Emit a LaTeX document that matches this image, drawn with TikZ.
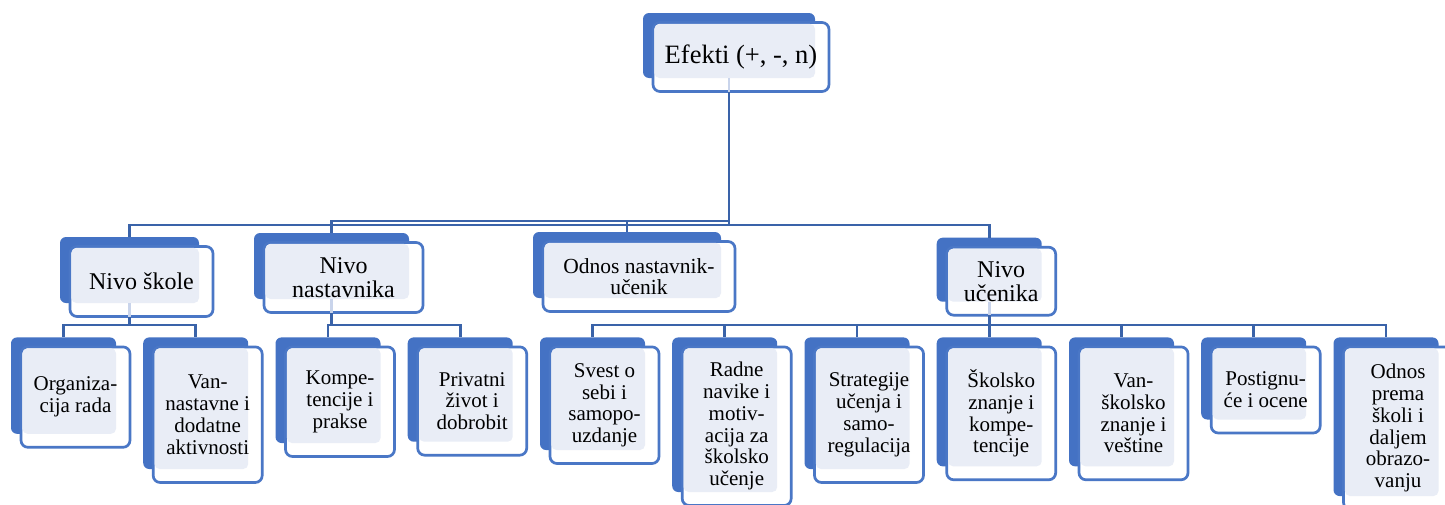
\documentclass[tikz,border=0pt]{standalone}
\usepackage{fontspec}
\setmainfont{Liberation Serif}
\definecolor{backblue}{HTML}{4472C4}
\definecolor{frontblue}{HTML}{4A77C6}
\definecolor{lightfill}{HTML}{E9EDF6}
\definecolor{linkblue}{HTML}{3A63A9}
\definecolor{faintblue}{HTML}{C9D4EB}
\tikzset{
  backbox/.style={fill=backblue, rounded corners=6pt},
  frontbox/.style={draw=frontblue, fill=white, line width=2.7pt, rounded corners=7pt},
  lightbox/.style={fill=lightfill, rounded corners=5pt},
  txt/.style={inner sep=0pt, align=center, text=black},
  ftop/.style={font=\fontsize{26.5}{30}\selectfont},
  fmid/.style={font=\fontsize{24}{24}\selectfont},
  fodn/.style={font=\fontsize{21.5}{21.3}\selectfont},
  fbot/.style={font=\fontsize{21}{21.8}\selectfont},
  link/.style={draw=linkblue, line width=2.7pt},
  faint/.style={draw=faintblue, line width=2.7pt},
}
\newcommand\mycard[7]{%
  \fill[backbox] (#2,#3) rectangle (#4,#5);
  \draw[frontbox] (#2+10,#3+9.5) rectangle (#4+14,#5+13.5);
  \fill[lightbox] (#2+11.4,#3+10.9) rectangle (#4,#5);
  \node[txt,#6] (#1) at ({(#2+#4+24)/2},{(#3+#5+23)/2}) {#7};
  \coordinate (#1-t) at ({(#2+#4)/2},#3);
  \coordinate (#1-b) at ({(#2+#4)/2},#5+13.5);
  \coordinate (#1-bb) at ({(#2+#4)/2},#5);
}
\begin{document}
\begin{tikzpicture}[x=1pt,y=-1pt]
\clip (0,0) rectangle (1445,504);
\fill[white] (0,0) rectangle (1445,504);
% bus coordinates
\coordinate (busA) at (729,221);
\coordinate (busB) at (729,225);
\coordinate (busS) at (129.5,325);
\coordinate (busN) at (331.5,325);
\coordinate (busU) at (989.2,325);
% cards
\mycard{ef}{643}{13}{815}{78}{ftop}{Efekti (+, -, n)}
\mycard{skole}{60}{237}{199}{303}{fmid}{Nivo škole}
\mycard{nast}{254}{233}{409}{299}{fmid}{Nivo\\nastavnika}
\mycard{odnos}{533}{232}{721}{298}{fodn}{Odnos nastavnik-\\učenik}
\mycard{ucen}{936.7}{237.7}{1041.7}{301.7}{fmid}{Nivo\\učenika}
\mycard{org}{11}{337.4}{116}{433.8}{fbot}{Organiza-\\cija rada}
\mycard{van}{143.2}{337.4}{248.2}{469}{fbot}{Van-\\nastavne i\\dodatne\\aktivnosti}
\mycard{komp}{275.5}{337.4}{380.5}{443}{fbot}{Kompe-\\tencije i\\prakse}
\mycard{priv}{407.7}{337.4}{512.7}{441.7}{fbot}{Privatni\\život i\\dobrobit}
\mycard{svest}{540}{337.4}{645}{450}{fbot}{Svest o\\sebi i\\samopo-\\uzdanje}
\mycard{radne}{672.2}{337.4}{777.2}{492}{fbot}{Radne\\navike i\\motiv-\\acija za\\školsko\\učenje}
\mycard{strat}{804.5}{337.4}{909.5}{469}{fbot}{Strategije\\učenja i\\samo-\\regulacija}
\mycard{skol}{936.7}{337.4}{1041.7}{466.3}{fbot}{Školsko\\znanje i\\kompe-\\tencije}
\mycard{vansk}{1069}{337.4}{1174}{466.3}{fbot}{Van-\\školsko\\znanje i\\veštine}
\mycard{post}{1201.2}{337.4}{1306.2}{419.5}{fbot}{Postignu-\\će i ocene}
\mycard{odpr}{1333.5}{337.4}{1438.5}{496}{fbot}{Odnos\\prema\\školi i\\daljem\\obrazo-\\vanju}
% faint stems through the front strips
\draw[faint] (ef-bb) -- (ef-b);
\draw[faint] (skole-bb) -- (skole-b);
\draw[faint] (nast-bb) -- (nast-b);
\draw[faint] (ucen-bb) -- (ucen-b);
% level 1 -> 2
\draw[link] (ef-b) -- (busB);
\draw[link] (busB) -| (skole-t);
\draw[link] (busA) -| (nast-t);
\draw[link] (busA) -| (odnos-t);
\draw[link] (busB) -| (ucen-t);
% level 2 -> 3
\draw[link] (skole-b) -- (busS);
\draw[link] (busS) -| (org-t);
\draw[link] (busS) -| (van-t);
\draw[link] (nast-b) -- (busN);
\draw[link] (busN) -| (komp-t);
\draw[link] (busN) -| (priv-t);
\draw[link] (ucen-b) -- (busU);
\draw[link] (busU) -| (svest-t);
\draw[link] (busU) -| (radne-t);
\draw[link] (busU) -| (strat-t);
\draw[link] (busU) -| (skol-t);
\draw[link] (busU) -| (vansk-t);
\draw[link] (busU) -| (post-t);
\draw[link] (busU) -| (odpr-t);
\end{tikzpicture}
\end{document}
